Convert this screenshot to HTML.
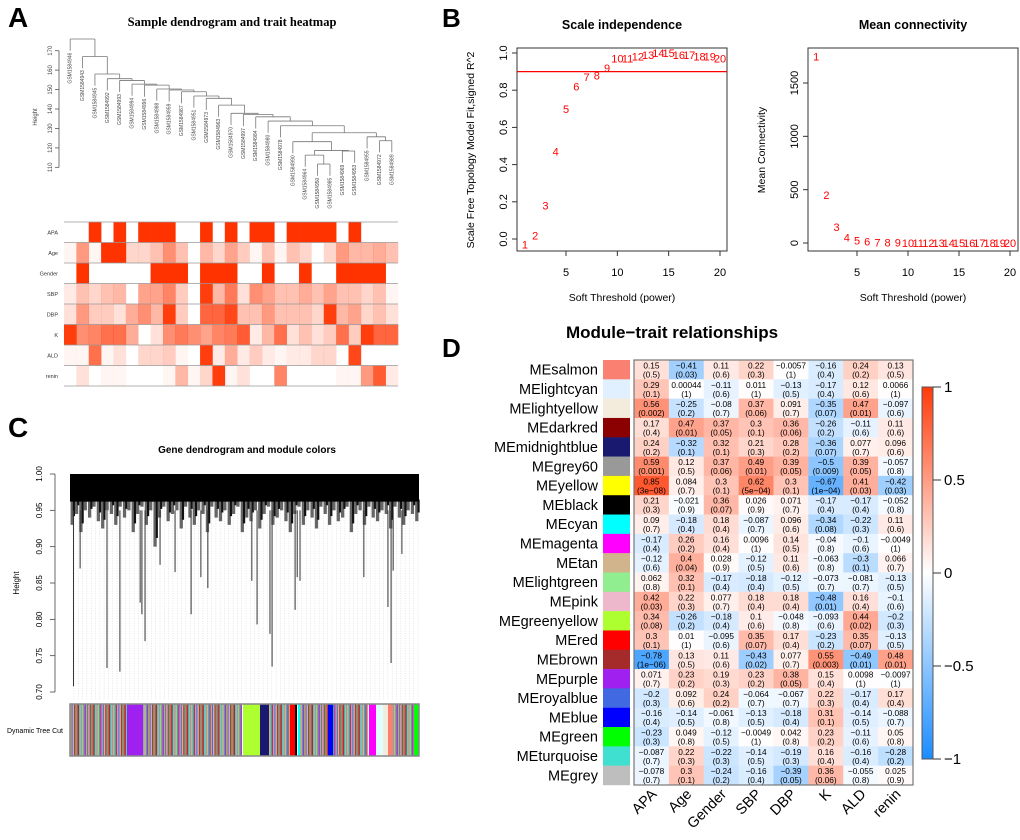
<!DOCTYPE html>
<html><head><meta charset="utf-8"><style>
html,body{margin:0;padding:0;background:#fff;}
svg{display:block;font-family:"Liberation Sans",Arial,sans-serif;}
</style></head><body>
<svg id="fig" width="1020" height="840" viewBox="0 0 1020 840" xmlns="http://www.w3.org/2000/svg">
<defs>
<pattern id="mix" patternUnits="userSpaceOnUse" width="15.6" height="60">
<rect x="0" y="0" width="1.3" height="60" fill="#A52A2A"/><rect x="1.3" y="0" width="1.3" height="60" fill="#40E0D0"/>
<rect x="2.6" y="0" width="1.3" height="60" fill="#999"/><rect x="3.9" y="0" width="1.3" height="60" fill="#D2B48C"/>
<rect x="5.2" y="0" width="1.3" height="60" fill="#3cb371"/><rect x="6.5" y="0" width="1.3" height="60" fill="#A020F0"/>
<rect x="7.8" y="0" width="1.3" height="60" fill="#d2b02c"/><rect x="9.1" y="0" width="1.3" height="60" fill="#4169E1"/>
<rect x="10.4" y="0" width="1.3" height="60" fill="#e8a0b0"/><rect x="11.7" y="0" width="1.3" height="60" fill="#8B4513"/>
<rect x="13" y="0" width="1.3" height="60" fill="#7a9a7a"/><rect x="14.3" y="0" width="1.3" height="60" fill="#c0504d"/>
</pattern>
<linearGradient id="cbar" x1="0" y1="0" x2="0" y2="1">
<stop offset="0" stop-color="#ff3a0a"/><stop offset="0.5" stop-color="#ffffff"/><stop offset="1" stop-color="#1a8cff"/>
</linearGradient>
</defs>
<g id="pA"></g>
<g id="pB"></g>
<g id="pC"></g>
<g id="pD"></g>
</svg>
<script>
// ===== Panel B data =====
const powers = [1,2,3,4,5,6,7,8,9,10,11,12,13,14,15,16,17,18,19,20];
const fitR2 = [-0.03,0.02,0.18,0.47,0.7,0.82,0.87,0.88,0.92,0.97,0.97,0.98,0.99,1.0,1.0,0.99,0.99,0.98,0.98,0.97];
const meanK = [1750,450,150,50,22,12,7,5,3,2,1.5,1,1,1,1,1,1,1,1,1];
const r2Ticks = ["0.0","0.2","0.4","0.6","0.8","1.0"];
const kTicks = ["0","500","1000","1500"];
const xTicks = [5,10,15,20];
const r2Cut = 0.9;

// ===== Panel A data =====
const sampleNames = ["GSM1584946","GSM1584943","GSM1584945","GSM1584992","GSM1584993","GSM1584994","GSM1584996","GSM1584988","GSM1584959","GSM1584987","GSM1584951","GSM1584973","GSM1584963","GSM1584970","GSM1584997","GSM1584984","GSM1584980","GSM1584978","GSM1584990","GSM1584964","GSM1584950","GSM1584985","GSM1584969","GSM1584953","GSM1584955","GSM1584972","GSM1584989"];
const merges = [[20,21,111.7],[19,-1,116.3],[22,23,118.4],[-2,-3,118.7],[18,-4,123.2],[25,26,123.7],[24,-6,125.7],[-5,-7,127.8],[17,-8,131.4],[16,-9,133.8],[15,-10,136],[14,-11,137.2],[13,-12,137.8],[12,-13,142],[11,-14,145.5],[10,-15,146.7],[9,-16,148.9],[8,-17,149.8],[7,-18,150.3],[6,-19,152.3],[5,-20,152.8],[4,-21,154.7],[3,-22,155.6],[2,-23,158],[1,-24,167],[0,-25,176]];
const heightTicks = [110,120,130,140,150,160,170];
const traitNames = ["APA","Age","Gender","SBP","DBP","K","ALD","renin"];
const traitAPA = [0,0,1,0,1,0,1,1,1,0,0,1,0,1,0,1,1,0,1,1,1,1,0,1,0,0,0];
const traitAge = [0.05,0.5,0.05,1,1,0.2,0.2,0.3,0.55,0.3,0,0.35,0.2,0.45,0.25,0.05,0.3,0.05,0.3,0.2,0,0.2,0.5,0.35,0.35,0.4,0.3];
const traitGender = [0,1,0,0,0,0,0,1,1,1,0,1,1,1,0,0,1,0,0,1,0,0,1,1,1,1,0];
const traitSBP = [0.1,0.3,0.2,0.3,0.35,0,0.45,0.45,0.6,0.25,0,0.95,0.35,0.65,0.15,0.55,0.45,0.3,0.3,0.4,0.3,0.45,0.3,0.3,0.2,0.3,0.05];
const traitDBP = [0.15,0.5,0.25,0.25,0.15,0.4,0.55,0.35,0.95,0.25,0,0.75,0.75,0.9,0.3,0.3,0.5,0.3,0.3,0.3,0.2,0.95,0.35,0.45,0.2,0.3,0.15];
const traitK = [0.95,0.55,0.6,0.7,0.7,0.4,0,0.15,0.55,0.65,0.55,0.45,0.6,0.65,0.8,0.1,0.35,0.7,0.15,0.3,0.15,0.25,0.7,0.25,0.95,0.75,0.75];
const traitALD = [0.05,0.05,0.7,0.05,0.15,0,0.2,0.2,0.25,0.05,0,0.95,0.1,0.4,0.1,0.25,0.1,0.05,0.1,0.1,0.2,0.2,0,0.9,0,0,0];
const traitRenin = [0,0.15,0,0.05,0.05,0,0,0,0.05,0.35,0.05,0.2,0.95,0.05,0.15,0,0,0.6,0,0,0,0,0.05,0.05,0.5,0.8,0.1];

// ===== Panel C data =====
const cTicks = ["0.70","0.75","0.80","0.85","0.90","0.95","1.00"];
const dropPos = [0.01,0.106,0.143,0.201,0.206,0.215,0.029,0.258,0.301,0.347,0.375,0.395,0.521,0.536,0.579,0.573,0.645,0.651,0.659,0.842,0.911,0.92,0.926,0.951];
const dropHeight = [0.708,0.733,0.728,0.823,0.807,0.77,0.87,0.875,0.865,0.807,0.858,0.843,0.853,0.793,0.735,0.78,0.813,0.858,0.853,0.858,0.817,0.74,0.867,0.89];
const fringeDepth = [0.93,0.945,0.92,0.95,0.94,0.955,0.935,0.925,0.95,0.945,0.93,0.955,0.94,0.95,0.92,0.945,0.955,0.93,0.95,0.9,
0.94,0.955,0.935,0.945,0.95,0.925,0.955,0.94,0.93,0.95,0.945,0.92,0.955,0.94,0.935,0.95,0.93,0.945,0.955,0.92,
0.94,0.935,0.95,0.925,0.945,0.955,0.93,0.94,0.95,0.935,0.92,0.945,0.955,0.93,0.95,0.94,0.925,0.955,0.945,0.93,
0.95,0.935,0.94,0.955,0.92,0.945,0.95,0.93,0.955,0.94,0.935,0.95,0.945,0.925,0.955,0.94,0.93,0.95,0.945,0.935];
const treeCutSegs = [[70,127,"mix"],[127,143,"#A020F0"],[143,160,"mix"],[160,242,"mix"],[243,260,"#ADFF2F"],[260,269,"#191970"],[269,290,"mix"],[290,295,"#FF0000"],[295,297,"#000000"],[298,300,"#00FFFF"],[300,328,"mix"],[328,333,"#0000FF"],[333,368,"mix"],[369,376,"#FF00FF"],[376,383,"#E0FFFF"],[383,388,"#F3EBDC"],[388,393,"#FA8072"],[393,414,"mix"],[414,419,"#00FF00"]];

// ===== Panel D data =====
const modules = ["MEsalmon","MElightcyan","MElightyellow","MEdarkred","MEmidnightblue","MEgrey60","MEyellow","MEblack","MEcyan","MEmagenta","MEtan","MElightgreen","MEpink","MEgreenyellow","MEred","MEbrown","MEpurple","MEroyalblue","MEblue","MEgreen","MEturquoise","MEgrey"];
const moduleColors = ["#FA8072","#E0F0FF","#F3EBDC","#8B0000","#191970","#999999","#FFFF00","#000000","#00FFFF","#FF00FF","#D2B48C","#90EE90","#EDB8CB","#ADFF2F","#FF0000","#A52A2A","#A020F0","#4169E1","#0000FF","#00FF00","#40E0D0","#BEBEBE"];
const corVals = [
["0.15","-0.41","0.11","0.22","-0.0057","-0.16","0.24","0.13"],
["0.29","0.00044","-0.11","0.011","-0.13","-0.17","0.12","0.0066"],
["0.56","-0.25","-0.08","0.37","0.091","-0.35","0.47","-0.097"],
["0.17","0.47","0.37","0.3","0.36","-0.26","-0.11","0.11"],
["0.24","-0.32","0.32","0.21","0.28","-0.36","0.077","0.096"],
["0.59","0.12","0.37","0.49","0.39","-0.5","0.39","-0.057"],
["0.85","0.084","0.3","0.62","0.3","-0.67","0.41","-0.42"],
["0.21","-0.021","0.36","0.026","0.071","-0.17","-0.17","-0.052"],
["0.09","-0.18","0.18","-0.087","0.096","-0.34","-0.22","0.11"],
["-0.17","0.26","0.16","0.0096","0.14","-0.04","-0.1","-0.0049"],
["-0.12","0.4","0.028","-0.12","0.11","-0.063","-0.3","0.066"],
["0.062","0.32","-0.17","-0.18","-0.12","-0.073","-0.081","-0.13"],
["0.42","0.22","0.077","0.18","0.18","-0.48","0.16","-0.1"],
["0.34","-0.26","-0.18","0.1","-0.048","-0.093","0.44","-0.2"],
["0.3","0.01","-0.095","0.35","0.17","-0.23","0.35","-0.13"],
["-0.78","0.13","0.11","-0.43","0.077","0.55","-0.49","0.48"],
["0.071","0.23","0.19","0.23","0.38","0.15","0.0098","-0.0097"],
["-0.2","0.092","0.24","-0.064","-0.067","0.22","-0.17","0.17"],
["-0.16","-0.14","-0.061","-0.13","-0.18","0.31","-0.14","-0.088"],
["-0.23","0.049","-0.12","-0.0049","0.042","0.23","-0.11","0.05"],
["-0.087","0.22","-0.22","-0.14","-0.19","0.16","-0.16","-0.28"],
["-0.078","0.3","-0.24","-0.16","-0.39","0.36","-0.055","0.025"]];
const pVals = [
["0.5","0.03","0.6","0.3","1","0.4","0.2","0.5"],
["0.1","1","0.6","1","0.5","0.4","0.6","1"],
["0.002","0.2","0.7","0.06","0.7","0.07","0.01","0.6"],
["0.4","0.01","0.05","0.1","0.06","0.2","0.6","0.6"],
["0.2","0.1","0.1","0.3","0.2","0.07","0.7","0.6"],
["0.001","0.5","0.06","0.01","0.05","0.009","0.05","0.8"],
["3e-08","0.7","0.1","5e-04","0.1","1e-04","0.03","0.03"],
["0.3","0.9","0.07","0.9","0.7","0.4","0.4","0.8"],
["0.7","0.4","0.4","0.7","0.6","0.08","0.3","0.6"],
["0.4","0.2","0.4","1","0.5","0.8","0.6","1"],
["0.6","0.04","0.9","0.5","0.6","0.8","0.1","0.7"],
["0.8","0.1","0.4","0.4","0.5","0.7","0.7","0.5"],
["0.03","0.3","0.7","0.4","0.4","0.01","0.4","0.6"],
["0.08","0.2","0.4","0.6","0.8","0.6","0.02","0.3"],
["0.1","1","0.6","0.07","0.4","0.2","0.07","0.5"],
["1e-06","0.5","0.6","0.02","0.7","0.003","0.01","0.01"],
["0.7","0.2","0.3","0.2","0.05","0.4","1","1"],
["0.3","0.6","0.2","0.7","0.7","0.3","0.4","0.4"],
["0.4","0.5","0.8","0.5","0.4","0.1","0.5","0.7"],
["0.3","0.8","0.5","1","0.8","0.2","0.6","0.8"],
["0.7","0.3","0.3","0.5","0.3","0.4","0.4","0.2"],
["0.7","0.1","0.2","0.4","0.05","0.06","0.8","0.9"]];
const cbarTicks = [1,0.5,0,-0.5,-1];

const NS="http://www.w3.org/2000/svg";
function mk(tag, attrs, parent){const e=document.createElementNS(NS,tag);for(const k in attrs)e.setAttribute(k,attrs[k]);parent.appendChild(e);return e;}
function txt(s, attrs, parent){const e=mk("text",attrs,parent);e.textContent=s;return e;}
const minus = s => String(s).replace(/-/g,"\u2212");

// ================= PANEL B =================
(function(){
  const g=document.getElementById("pB");
  let e=txt("B",{x:442,y:27,"font-size":26,"font-weight":"bold"},g);
  
  
  function plot(cfg){
    const gx=(v)=>cfg.x0+(v-5)*(cfg.x20-cfg.x0)/15;
    const gy=cfg.gy;
    let b=mk("rect",{x:cfg.L,y:48,width:cfg.R-cfg.L,height:203,fill:"none",stroke:"#333","stroke-width":1},g);
    
    
    let t=txt(cfg.title,{x:(cfg.L+cfg.R)/2,y:29,"font-size":12.5,"font-weight":"bold","text-anchor":"middle"},g);
    
    
    xTicks.forEach(v=>{
      const x=gx(v);
      let l=mk("line",{x1:x,y1:251,x2:x,y2:256,stroke:"#333"},g);
      
      
      let tl=txt(String(v),{x:x,y:276,"font-size":11,"text-anchor":"middle"},g);
      
      
    });
    mk("line",{x1:gx(5),y1:251,x2:gx(20),y2:251,stroke:"#333"},g);
    let xl=txt("Soft Threshold (power)",{x:(cfg.L+cfg.R)/2,y:301,"font-size":10.5,"text-anchor":"middle"},g);
    
    
    cfg.yticks.forEach(s=>{
      const y=gy(parseFloat(s));
      let l=mk("line",{x1:cfg.L-5,y1:y,x2:cfg.L,y2:y,stroke:"#333"},g);
      
      
      let tl=txt(s,{x:cfg.L-10,y:y,"font-size":11,"text-anchor":"middle",transform:`rotate(-90 ${cfg.L-10} ${y})`},g);
      
      
    });
    mk("line",{x1:cfg.L,y1:gy(parseFloat(cfg.yticks[0])),x2:cfg.L,y2:gy(parseFloat(cfg.yticks[cfg.yticks.length-1])),stroke:"#333"},g);
    let yl=txt(cfg.ylab,{x:cfg.ylx,y:150,"font-size":10.5,"text-anchor":"middle",transform:`rotate(-90 ${cfg.ylx} 150)`},g);
    
    
    powers.forEach((p,i)=>{
      let pt=txt(String(p),{x:gx(p),y:gy(cfg.vals[i])+4,"font-size":11,fill:"#ff0000","text-anchor":"middle"},g);
      
      
    });
    return {gx,gy};
  }
  const a=plot({name:"scale-independence",L:517,R:727,x0:566,x20:720,gy:v=>239-v*186,yticks:r2Ticks,title:"Scale independence",ylab:"Scale Free Topology Model Fit,signed R^2",ylx:474,vals:fitR2});
  let cut=mk("line",{x1:517,y1:a.gy(r2Cut),x2:727,y2:a.gy(r2Cut),stroke:"#ff0000","stroke-width":1.2},g);
  
  
  plot({name:"mean-connectivity",L:808,R:1018,x0:857,x20:1010,gy:v=>243-v*160/1500,yticks:kTicks,title:"Mean connectivity",ylab:"Mean Connectivity",ylx:765,vals:meanK});
})();

// ================= PANEL A =================
(function(){
  const g=document.getElementById("pA");
  let e=txt("A",{x:8,y:27,"font-size":28,"font-weight":"bold"},g);
  
  
  let t=txt("Sample dendrogram and trait heatmap",{x:232,y:26,"font-size":12.5,"font-weight":"bold","font-family":"Liberation Serif, serif","text-anchor":"middle"},g);
  
  
  const hy=h=>50.7+(170-h)*1.944;
  const X0=64, CW=(398-64)/27;
  const lx=i=>X0+CW*(i+0.5);
  mk("line",{x1:59,y1:hy(110),x2:59,y2:hy(170),stroke:"#555","stroke-width":0.8},g);
  heightTicks.forEach(h=>{
    let l=mk("line",{x1:55,y1:hy(h),x2:59,y2:hy(h),stroke:"#555","stroke-width":0.8},g);
    
    
    let tl=txt(String(h),{x:50,y:hy(h)+2,"font-size":6,"text-anchor":"middle",fill:"#444",transform:`rotate(-90 50 ${hy(h)})`},g);
    
    
  });
  let yl=txt("Height",{x:37,y:117,"font-size":6,"text-anchor":"middle",fill:"#444",transform:"rotate(-90 37 117)"},g);
  
  
  const nodeX=[], nodeH=[];
  const hang=6;
  function pos(id){ if(id>=0) return {x:lx(id),leaf:true,i:id}; const k=-id-1; return {x:nodeX[k],h:nodeH[k],leaf:false}; }
  merges.forEach((m,k)=>{
    const a=pos(m[0]), b=pos(m[1]), h=m[2];
    nodeX[k]=(a.x+b.x)/2; nodeH[k]=h;
    [a,b].forEach(c=>{
      const bottom = c.leaf ? h-hang : c.h;
      let v=mk("line",{x1:c.x,y1:hy(h),x2:c.x,y2:hy(bottom),stroke:"#777","stroke-width":0.8},g);
      
      
      if(c.leaf){
        let lb=txt(sampleNames[c.i],{x:c.x+1.5,y:hy(bottom)+2,"font-size":5,fill:"#444","text-anchor":"end",transform:`rotate(-90 ${c.x+1.5} ${hy(bottom)+2})`},g);
        
        
      }
    });
    let hz=mk("line",{x1:a.x,y1:hy(h),x2:b.x,y2:hy(h),stroke:"#777","stroke-width":0.8},g);
    
    
  });
  const rows=[traitAPA,traitAge,traitGender,traitSBP,traitDBP,traitK,traitALD,traitRenin];
  const RT=222, RH=20.5;
  rows.forEach((r,ri)=>{
    r.forEach((v,ci)=>{
      let c=mk("rect",{x:X0+CW*ci,y:RT+RH*ri,width:CW+0.3,height:RH,fill:"#ff3300","fill-opacity":v},g);
      
      
    });
    let ln=mk("line",{x1:X0,y1:RT+RH*ri,x2:398,y2:RT+RH*ri,stroke:"#999","stroke-width":0.8},g);
    
    
    let lb=txt(traitNames[ri],{x:58,y:RT+RH*ri+RH/2+2,"font-size":5.5,"text-anchor":"end",fill:"#333"},g);
    
    
  });
  mk("line",{x1:X0,y1:RT+RH*8,x2:398,y2:RT+RH*8,stroke:"#999","stroke-width":0.8},g);
})();

// ================= PANEL C =================
(function(){
  const g=document.getElementById("pC");
  let e=txt("C",{x:8,y:437,"font-size":28,"font-weight":"bold"},g);
  
  
  let t=txt("Gene dendrogram and module colors",{x:247,y:453,"font-size":10,"font-weight":"bold","text-anchor":"middle"},g);
  
  
  const L=70,R=419;
  const hy=h=>474+(1-h)*726.7;
  mk("line",{x1:55,y1:hy(0.7),x2:55,y2:hy(1),stroke:"#444","stroke-width":0.8},g);
  cTicks.forEach(s=>{
    const y=hy(parseFloat(s));
    let l=mk("line",{x1:50,y1:y,x2:55,y2:y,stroke:"#444","stroke-width":0.8},g);
    
    
    let tl=txt(s,{x:42,y:y,"font-size":8,"text-anchor":"middle",transform:`rotate(-90 42 ${y})`},g);
    
    
  });
  let yl=txt("Height",{x:19,y:583,"font-size":8,"text-anchor":"middle",transform:"rotate(-90 19 583)"},g);
  
  
  for(let x=L+4;x<R;x+=4.3){
    let d=mk("line",{x1:x,y1:hy(0.96),x2:x,y2:hy(0.69),stroke:"#d4d4d4","stroke-width":0.6,"stroke-dasharray":"1,1.5"},g);
    
    
  }
  const fw=(R-L)/fringeDepth.length;
  fringeDepth.forEach((d,i)=>{
    const x=L+fw*(i+0.5);
    let f=mk("line",{x1:x,y1:hy(0.965),x2:x,y2:hy(d),stroke:"#666","stroke-width":fw*0.75},g);
    
    
    let f2=mk("line",{x1:x+fw*0.4,y1:hy(0.965),x2:x+fw*0.4,y2:hy(d+0.012),stroke:"#111","stroke-width":fw*0.5},g);
    
    
  });
  let bk=mk("rect",{x:L,y:hy(1),width:R-L,height:hy(0.962)-hy(1),fill:"#000"},g);
  
  
  dropPos.forEach((p,i)=>{
    const x=L+p*(R-L);
    let d=mk("line",{x1:x,y1:hy(0.95),x2:x,y2:hy(dropHeight[i]),stroke:"#333","stroke-width":1},g);
    
    
  });
  treeCutSegs.forEach(s=>{
    let r=mk("rect",{x:s[0],y:704,width:s[1]-s[0],height:52,fill:s[2]==="mix"?"url(#mix)":s[2]},g);
    
    
  });
  let br=mk("rect",{x:L,y:704,width:R-L,height:52,fill:"none",stroke:"#888","stroke-width":1.5},g);
  
  
  let lb=txt("Dynamic Tree Cut",{x:35,y:733,"font-size":7,"text-anchor":"middle"},g);
  
  
})();

// ================= PANEL D =================
(function(){
  const g=document.getElementById("pD");
  let e=txt("D",{x:442,y:357,"font-size":26,"font-weight":"bold"},g);
  
  
  let t=txt("Module\u2212trait relationships",{x:672,y:338,"font-size":17,"font-weight":"bold","text-anchor":"middle"},g);
  
  
  const X0=634,X1=913,Y0=360,Y1=785;
  const rh=(Y1-Y0)/modules.length, cw=(X1-X0)/traitNames.length;
  function col(v){
    const a=Math.min(1,Math.abs(v));
    let c= v>=0 ? [255,58,10] : [26,140,255];
    const m=c.map(k=>Math.round(255+(k-255)*a));
    return `rgb(${m[0]},${m[1]},${m[2]})`;
  }
  modules.forEach((m,ri)=>{
    const y=Y0+rh*ri;
    let lb=txt(m,{x:598,y:y+rh/2+5,"font-size":14.5,"text-anchor":"end"},g);
    
    
    let sw=mk("rect",{x:603,y:y,width:27,height:rh+0.2,fill:moduleColors[ri]},g);
    
    
    traitNames.forEach((tn,ci)=>{
      const v=parseFloat(corVals[ri][ci]);
      const x=X0+cw*ci;
      let c=mk("rect",{x:x,y:y,width:cw+0.3,height:rh+0.3,fill:col(v)},g);
      
      
      let t1=txt(minus(corVals[ri][ci]),{x:x+cw/2,y:y+8.5,"font-size":8.3,"text-anchor":"middle"},g);
      
      
      let t2=txt("("+minus(pVals[ri][ci])+")",{x:x+cw/2,y:y+17.5,"font-size":8.3,"text-anchor":"middle"},g);
      
      
    });
  });
  let bx=mk("rect",{x:X0,y:Y0,width:X1-X0,height:Y1-Y0,fill:"none",stroke:"#777","stroke-width":1.2},g);
  
  
  traitNames.forEach((tn,ci)=>{
    const cx=X0+cw*(ci+0.5)+6, cy=795;
    let l=txt(tn,{x:cx,y:cy,"font-size":14.5,"text-anchor":"end",transform:`rotate(-45 ${cx} ${cy})`},g);
    
    
  });
  const CT=387, CB=759;
  let cb=mk("rect",{x:922,y:CT,width:11,height:CB-CT,fill:"url(#cbar)",stroke:"#555","stroke-width":1},g);
  
  
  cbarTicks.forEach(v=>{
    const y=CT+(1-v)/2*(CB-CT);
    let l=mk("line",{x1:933,y1:y,x2:941,y2:y,stroke:"#333"},g);
    
    
    let tl=txt(minus(v),{x:944,y:y+5,"font-size":15},g);
    
    
  });
})();
</script>
</body></html>
